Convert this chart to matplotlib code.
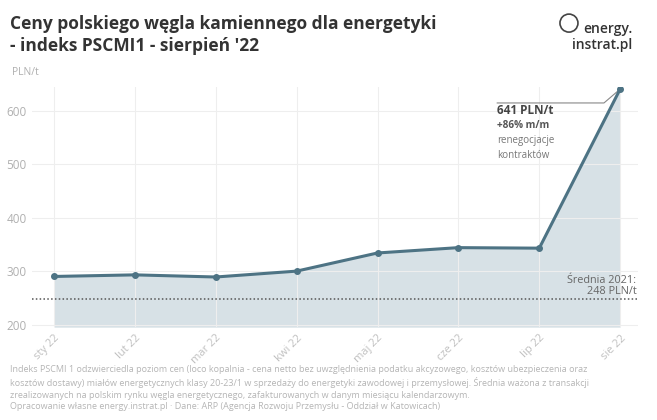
import matplotlib.pyplot as plt
import numpy as np
from matplotlib.patches import Ellipse

# dane
months = ["sty 22", "lut 22", "mar 22", "kwi 22", "maj 22", "cze 22", "lip 22", "sie 22"]
prices = [290, 293, 289, 300, 334, 344, 343, 641]
avg_2021 = 248
y_ticks = [200, 300, 400, 500, 600]

line_col = "#4d7384"
fill_col = "#d7e1e6"
grey = "#b0b0b0"

plt.rcParams['font.family'] = ['Open Sans', 'DejaVu Sans']

fig = plt.figure(figsize=(6.57, 4.2), dpi=100)
ax = fig.add_axes([0.049, 0.221, 0.922, 0.572])

x = np.arange(len(months))
ax.fill_between(x, 195, prices, color=fill_col, lw=0, zorder=1)
ax.plot(x, prices, color=line_col, lw=2.2, marker='o', ms=4, zorder=3)
ax.axhline(avg_2021, color="#555555", lw=1.1, ls=(0, (1, 1.5)), zorder=2)

ax.set_xlim(-0.27, 7.22)
ax.set_ylim(195, 645)
ax.set_xticks(x)
ax.set_xticklabels(months, rotation=45, ha='right', rotation_mode='anchor',
                   color="#c0c0c0", fontsize=8)
ax.set_yticks(y_ticks)
ax.set_yticklabels([str(v) for v in y_ticks], color=grey, fontsize=8.5)
ax.tick_params(length=0, pad=4)
ax.grid(True, color="#eeeeee", lw=0.8, zorder=0)
for s in ax.spines.values():
    s.set_visible(False)

# adnotacja sierpień
ax.plot([5.48, 6.8, x[-1]], [615, 615, prices[-1]], color="#888888", lw=0.8, zorder=2)
ax.text(5.48, 600, "641 PLN/t", fontsize=8.5, fontweight='bold', color="#444444", va='center')
ax.text(5.48, 573, "+86% m/m", fontsize=7.2, fontweight='bold', color="#555555", va='center')
ax.text(5.48, 544, "renegocjacje", fontsize=7, color="#777777", va='center')
ax.text(5.48, 517, "kontraktów", fontsize=7, color="#777777", va='center')

ax.text(7.2, 283, "Średnia 2021:", fontsize=7.8, color="#666666", ha='right', va='center')
ax.text(7.2, 261, "248 PLN/t", fontsize=7.8, color="#666666", ha='right', va='center')

# tytuł i opisy
fig.text(0.015, 0.965, "Ceny polskiego węgla kamiennego dla energetyki\n- indeks PSCMI1 - sierpień '22",
         fontsize=12.5, fontweight='bold', color="#333333", va='top', linespacing=1.3)
fig.text(0.018, 0.828, "PLN/t", fontsize=7.5, color=grey, va='center')
fig.text(0.962, 0.93, "energy.", fontsize=10, fontweight='semibold', color="#333333",
         ha='right', va='center')
fig.text(0.962, 0.892, "instrat.pl", fontsize=10, fontweight='semibold', color="#333333",
         ha='right', va='center')
fig.patches.append(Ellipse((0.866, 0.945), 18 / 657, 18 / 420, transform=fig.transFigure,
                           fill=False, ec="#444444", lw=1.2))

foot = ("Indeks PSCMI 1 odzwierciedla poziom cen (loco kopalnia - cena netto bez uwzględnienia podatku akcyzowego, kosztów ubezpieczenia oraz\n"
        "kosztów dostawy) miałów energetycznych klasy 20-23/1 w sprzedaży do energetyki zawodowej i przemysłowej. Średnia ważona z transakcji\n"
        "zrealizowanych na polskim rynku węgla energetycznego, zafakturowanych w danym miesiącu kalendarzowym.\n"
        "Opracowanie własne energy.instrat.pl · Dane: ARP (Agencja Rozwoju Przemysłu - Oddział w Katowicach)")
fig.text(0.015, 0.13, foot, fontsize=6.5, color="#b5b5b5", va='top', linespacing=1.33)

fig.savefig("out.png", dpi=100)
